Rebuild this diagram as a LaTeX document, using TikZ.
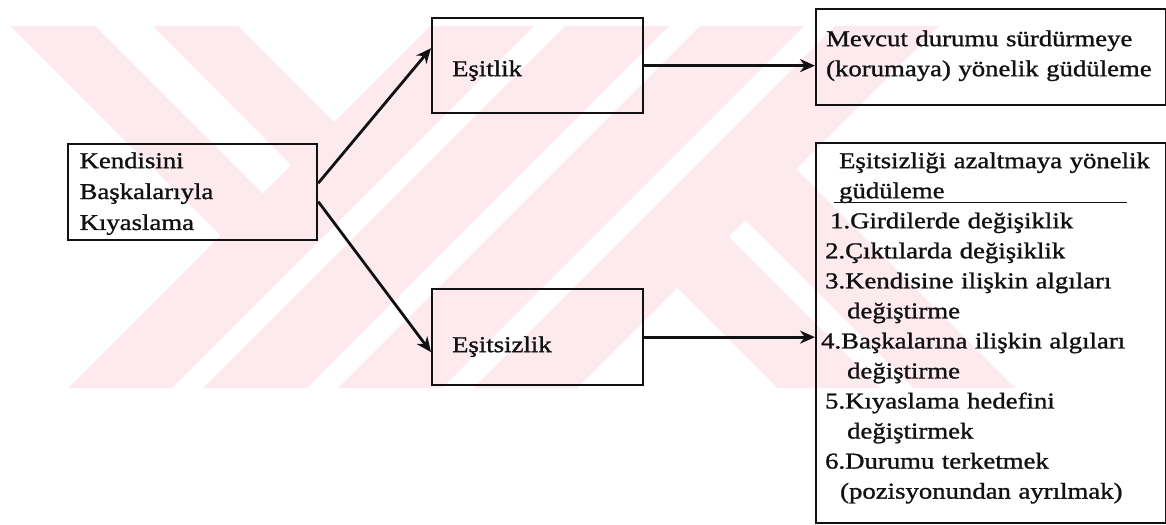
\documentclass[tikz,border=0pt]{standalone}
\usepackage{fontspec}
\setmainfont{Liberation Serif}[FakeStretch=1.18,FakeBold=1.2]
\usetikzlibrary{arrows.meta}
\definecolor{ink}{RGB}{17,17,17}
\definecolor{blush}{RGB}{252,234,238}
\tikzset{
  >={Stealth[length=3mm,width=2.6mm]},
  box/.style={draw=ink,text=ink,line width=1.3pt,anchor=north west,align=left,
    inner ysep=0pt,font=\fontsize{12.9pt}{#1}\selectfont},
  box/.default=17.6pt,
  flow/.style={->,line width=1.6pt,draw=ink},
}
\newcommand{\ind}[1]{\hspace*{#1}}

\begin{document}
\begin{tikzpicture}[x=0.02cm,y=-0.02cm]
  \useasboundingbox (0,0) rectangle (1166,524);
  % faint striped watermark behind the chart
  \begin{scope}
    \clip (0,26) rectangle (1166,388);
    \foreach \b in {68,203,338,473}
      \fill[blush] (\b,388) -- ++(104,0) -- ++(362,-362) -- ++(-104,0) -- cycle;
    \fill[blush] (10,26) -- (95,26) -- (280,211) -- (238,253) -- cycle;
    \fill[blush] (153,26) -- (238,26) -- (350,138) -- (307,181) -- cycle;
    \fill[blush] (660,271) -- (777,388) -- (880,388) -- (711,219) -- cycle;
    \fill[blush] (728,203) -- (913,388) -- (1015,388) -- (779,152) -- cycle;
  \end{scope}

  \node[box,text width=4.52cm,inner xsep=0.23cm,text height=0.48cm,text depth=1.44cm] (kendi) at (67,143)
    {Kendisini\\Başkalarıyla\\Kıyaslama};
  \node[box,text width=3.42cm,inner xsep=0.4cm,text height=1.16cm,text depth=0.74cm] (esit) at (431,17) {Eşitlik};
  \node[box,text width=3.42cm,inner xsep=0.4cm,text height=1.26cm,text depth=0.66cm] (esitsiz) at (431,288) {Eşitsizlik};
  \node[box=17.1pt,text width=6.6cm,inner xsep=0.2cm,text height=0.74cm,text depth=1.18cm] (mevcut) at (815,8)
    {Mevcut durumu sürdürmeye\\(korumaya) yönelik güdüleme};
  \node[box=17.1pt,text width=6.8cm,inner xsep=0.1cm,text height=0.5cm,text depth=7.1cm] (azalt) at (815,142)
    {\ind{0.36cm}Eşitsizliği azaltmaya yönelik\\
     \ind{0.25cm}\rlap{\rule[-3pt]{5.87cm}{0.9pt}}\ind{0.11cm}güdüleme\\
     \ind{0.18cm}1.Girdilerde değişiklik\\
     \ind{0.08cm}2.Çıktılarda değişiklik\\
     \ind{0.08cm}3.Kendisine ilişkin algıları\\
     \ind{0.52cm}değiştirme\\
     4.Başkalarına ilişkin algıları\\
     \ind{0.52cm}değiştirme\\
     \ind{0.08cm}5.Kıyaslama hedefini\\
     \ind{0.52cm}değiştirmek\\
     \ind{0.08cm}6.Durumu terketmek\\
     \ind{0.38cm}(pozisyonundan ayrılmak)};

  \draw[flow] ([yshift=0.18cm]kendi.east) -- ([yshift=0.35cm]esit.west);
  \draw[flow] ([yshift=-0.19cm]kendi.east) -- ([yshift=-0.3cm]esitsiz.west);
  \draw[flow] (esit.east) -- (esit.east -| mevcut.west);
  \draw[flow] (esitsiz.east) -- (esitsiz.east -| azalt.west);
\end{tikzpicture}
\end{document}
